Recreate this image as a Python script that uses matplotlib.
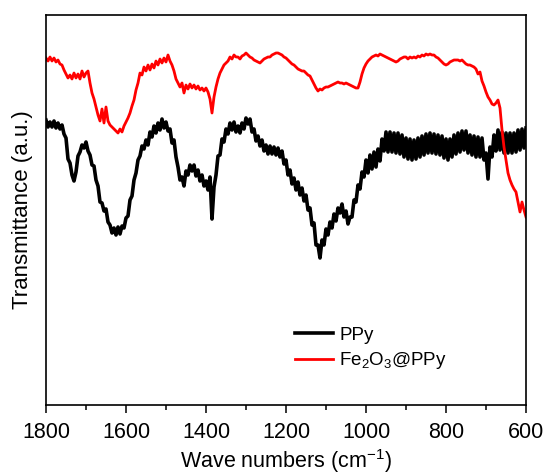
import numpy as np
import matplotlib
matplotlib.use('Agg')
import matplotlib.pyplot as plt
from matplotlib.ticker import MultipleLocator

plt.rcParams['font.family'] = ['Liberation Sans', 'DejaVu Sans']
plt.rcParams['mathtext.fontset'] = 'custom'
plt.rcParams['mathtext.rm'] = 'Liberation Sans'
plt.rcParams['mathtext.it'] = 'Liberation Sans:italic'

# wavenumbers, 1800 -> 600 cm-1 in 5 cm-1 steps
wn = np.arange(1800, 599, -5)

# PPy transmittance (arbitrary units)
ppy = [
    285, 278, 283, 278, 284, 277, 282, 276, 280, 271,
    267, 246, 242, 230, 224, 233, 249, 253, 260, 257,
    263, 254, 250, 240, 239, 225, 219, 203, 202, 194,
    196, 183, 180, 172, 177, 170, 178, 171, 179, 177,
    187, 189, 205, 209, 225, 232, 245, 249, 259, 256,
    265, 260, 273, 268, 279, 272, 282, 275, 286, 277,
    283, 274, 276, 262, 265, 248, 238, 225, 228, 219,
    234, 230, 240, 234, 240, 229, 235, 224, 230, 219,
    224, 215, 228, 186, 218, 230, 249, 250, 266, 263,
    276, 271, 282, 275, 283, 273, 279, 272, 282, 276,
    287, 281, 286, 273, 276, 264, 269, 259, 265, 254,
    260, 251, 259, 251, 258, 250, 257, 248, 254, 241,
    245, 230, 235, 221, 227, 215, 223, 210, 217, 204,
    210, 195, 197, 180, 182, 160, 160, 147, 165, 160,
    176, 170, 183, 177, 191, 184, 197, 192, 201, 188,
    194, 181, 188, 188, 205, 203, 220, 216, 233, 228,
    245, 232, 250, 236, 253, 238, 256, 244, 266, 254,
    273, 253, 273, 253, 272, 252, 272, 251, 270, 248,
    267, 246, 266, 245, 265, 246, 267, 248, 269, 250,
    271, 252, 272, 252, 271, 251, 270, 250, 269, 247,
    266, 245, 266, 248, 270, 251, 272, 253, 274, 255,
    274, 252, 270, 250, 269, 248, 268, 248, 267, 245,
    252, 226, 258, 248, 270, 254, 275, 255, 273, 252,
    272, 252, 272, 252, 272, 253, 275, 255, 276, 257,
    277,
]

# Fe2O3@PPy transmittance (arbitrary units)
fe_ppy = [
    347, 344, 348, 344, 347, 343, 345, 341, 340, 335,
    331, 327, 330, 326, 332, 327, 331, 326, 334, 328,
    332, 334, 322, 312, 306, 298, 290, 284, 296, 282,
    298, 284, 280, 278, 276, 274, 272, 276, 273, 279,
    283, 287, 292, 299, 305, 315, 322, 332, 330, 338,
    334, 340, 335, 341, 337, 344, 340, 346, 342, 347,
    343, 350, 344, 340, 334, 326, 322, 318, 322, 312,
    320, 316, 321, 317, 320, 316, 319, 315, 317, 314,
    317, 313, 306, 292, 308, 318, 326, 332, 336, 340,
    342, 344, 348, 346, 350, 348, 348, 346, 349, 350,
    352, 350, 348, 347, 345, 344, 343, 342, 344, 346,
    347, 348, 348, 350, 351, 352, 352, 351, 350, 348,
    347, 345, 343, 341, 340, 338, 336, 335, 334, 334,
    332, 330, 329, 325, 321, 317, 314, 316, 315, 317,
    318, 318, 319, 320, 321, 322, 323, 322, 322, 321,
    322, 321, 320, 319, 318, 317, 317, 323, 331, 337,
    341, 344, 346, 348, 349, 350, 349, 351, 350, 349,
    348, 347, 346, 345, 344, 343, 344, 346, 347, 348,
    348, 346, 348, 347, 348, 347, 349, 348, 350, 349,
    351, 350, 351, 350, 350, 348, 347, 345, 343, 341,
    340, 341, 343, 344, 345, 345, 345, 344, 345, 343,
    341, 340, 340, 339, 338, 336, 331, 333, 324, 319,
    313, 308, 305, 301, 300, 302, 305, 297, 275, 258,
    245, 232, 225, 220, 216, 213, 203, 193, 203, 195,
    188,
]

fig = plt.figure(figsize=(5.44, 4.76), dpi=100)
ax = fig.add_axes([46 / 544, 1 - 405 / 476, 480 / 544, 390 / 476])

ax.plot(wn, ppy, color='black', lw=2.6, label='PPy')
ax.plot(wn, fe_ppy, color='#ff0000', lw=2.0, label='Fe$_2$O$_3$@PPy')

ax.set_xlim(1800, 600)
ax.set_ylim(0, 390)
ax.xaxis.set_major_locator(MultipleLocator(200))
ax.xaxis.set_minor_locator(MultipleLocator(100))
ax.set_yticks([])
ax.tick_params(axis='x', which='major', direction='out', length=6, width=1.1,
               labelsize=15.5, pad=6)
ax.tick_params(axis='x', which='minor', direction='out', length=3.5, width=1.1)
for s in ax.spines.values():
    s.set_linewidth(1.2)

ax.set_xlabel('Wave numbers (cm$^{-1}$)', fontsize=15.5, labelpad=3)
ax.set_ylabel('Transmittance (a.u.)', fontsize=16, labelpad=9)

ax.legend(loc='upper left', bbox_to_anchor=(0.50, 0.225), frameon=False,
          fontsize=13.5, handlelength=2.0, handletextpad=0.35,
          labelspacing=0.35, borderpad=0)

fig.savefig('out.png', dpi=100)
